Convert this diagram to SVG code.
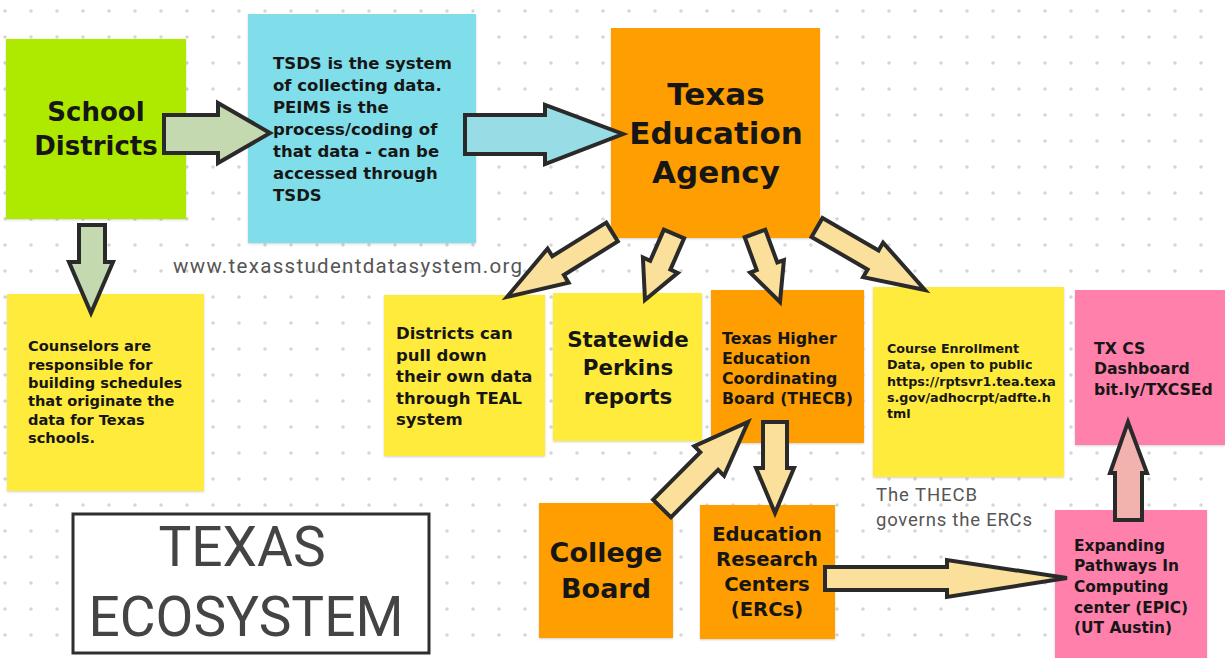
<svg xmlns="http://www.w3.org/2000/svg" width="1225" height="658" viewBox="0 0 1225 658">
<defs>
<pattern id="dots" x="5" y="11" width="26" height="26" patternUnits="userSpaceOnUse">
<circle cx="0" cy="0" r="1.7" fill="#d4d4d4"/><circle cx="26" cy="0" r="1.7" fill="#d4d4d4"/><circle cx="0" cy="26" r="1.7" fill="#d4d4d4"/><circle cx="26" cy="26" r="1.7" fill="#d4d4d4"/>
</pattern>
<filter id="sh" x="-5%" y="-5%" width="110%" height="110%"><feDropShadow dx="0" dy="1" stdDeviation="1" flood-color="#000" flood-opacity="0.18"/></filter>
</defs>
<style>
.b{font-family:"DejaVu Sans","Noto Sans",sans-serif;font-weight:bold;fill:#161616}
.r{font-family:Roboto,"Liberation Sans",sans-serif;fill:#555}
.note{filter:url(#sh)}
.arr{stroke:#2a2a2a;stroke-width:4;stroke-linejoin:miter}
.mid{text-anchor:middle}
</style>
<rect width="1225" height="658" fill="#fff"/>
<rect width="1225" height="658" fill="url(#dots)"/>

<g id="school-districts">
<rect class="note" x="6" y="39" width="180" height="180" fill="#aeea00"/>
<text class="b mid" x="96" y="121" font-size="26">School</text>
<text class="b mid" x="96" y="155" font-size="26">Districts</text>
</g>

<g id="tsds">
<rect class="note" x="248" y="14" width="228" height="229" fill="#80deea"/>
<text class="b" font-size="16.5"><tspan x="273" y="69">TSDS is the system</tspan><tspan x="273" y="91">of collecting data.</tspan><tspan x="273" y="113">PEIMS is the</tspan><tspan x="273" y="135">process/coding of</tspan><tspan x="273" y="157">that data - can be</tspan><tspan x="273" y="179">accessed through</tspan><tspan x="273" y="201">TSDS</tspan></text>
</g>

<g id="tea">
<rect class="note" x="611" y="28" width="209" height="210" fill="#ff9e00"/>
<text class="b mid" font-size="31"><tspan x="716" y="105">Texas</tspan><tspan x="716" y="144">Education</tspan><tspan x="716" y="183">Agency</tspan></text>
</g>

<g id="tsds-url">
<text class="r" x="173" y="273" font-size="20.5" textLength="349" lengthAdjust="spacing">www.texasstudentdatasystem.org</text>
</g>

<g id="counselors">
<rect class="note" x="7" y="294" width="197" height="197" fill="#ffeb3b"/>
<text class="b" font-size="14.6"><tspan x="28" y="351">Counselors are</tspan><tspan x="28" y="370">responsible for</tspan><tspan x="28" y="388">building schedules</tspan><tspan x="28" y="406">that originate the</tspan><tspan x="28" y="425">data for Texas</tspan><tspan x="28" y="443">schools.</tspan></text>
</g>

<g id="districts-pull">
<rect class="note" x="384" y="295" width="161" height="161" fill="#ffeb3b"/>
<text class="b" font-size="16.5"><tspan x="396" y="339">Districts can</tspan><tspan x="396" y="361">pull down</tspan><tspan x="396" y="382">their own data</tspan><tspan x="396" y="404">through TEAL</tspan><tspan x="396" y="425">system</tspan></text>
</g>

<g id="perkins">
<rect class="note" x="553" y="293" width="149" height="148" fill="#ffeb3b"/>
<text class="b mid" font-size="21.4"><tspan x="628" y="347">Statewide</tspan><tspan x="628" y="375">Perkins</tspan><tspan x="628" y="404">reports</tspan></text>
</g>

<g id="thecb">
<rect class="note" x="711" y="290" width="153" height="153" fill="#ff9e00"/>
<text class="b" font-size="15.8"><tspan x="722" y="344">Texas Higher</tspan><tspan x="722" y="364">Education</tspan><tspan x="722" y="384">Coordinating</tspan><tspan x="722" y="404">Board (THECB)</tspan></text>
</g>

<g id="course-enrollment">
<rect class="note" x="873" y="287" width="191" height="190" fill="#ffeb3b"/>
<text class="b" font-size="12.7"><tspan x="887" y="353">Course Enrollment</tspan><tspan x="887" y="369">Data, open to public</tspan><tspan x="887" y="386">https://rptsvr1.tea.texa</tspan><tspan x="887" y="402">s.gov/adhocrpt/adfte.h</tspan><tspan x="887" y="418">tml</tspan></text>
</g>

<g id="tx-cs-dashboard">
<rect class="note" x="1075" y="290" width="150" height="155" fill="#ff80ab"/>
<text class="b" font-size="15.7"><tspan x="1094" y="354">TX CS</tspan><tspan x="1094" y="374">Dashboard</tspan><tspan x="1094" y="395">bit.ly/TXCSEd</tspan></text>
</g>

<g id="thecb-note">
<text class="r" x="876" y="501" font-size="18.5" textLength="101" lengthAdjust="spacing">The THECB</text>
<text class="r" x="876" y="526" font-size="18.5" textLength="156" lengthAdjust="spacing">governs the ERCs</text>
</g>

<g id="college-board">
<rect class="note" x="539" y="503" width="134" height="135" fill="#ff9e00"/>
<text class="b mid" font-size="27"><tspan x="606" y="562">College</tspan><tspan x="606" y="598">Board</tspan></text>
</g>

<g id="ercs">
<rect class="note" x="700" y="505" width="135" height="134" fill="#ff9e00"/>
<text class="b mid" font-size="19.6"><tspan x="767" y="541">Education</tspan><tspan x="767" y="566">Research</tspan><tspan x="767" y="591">Centers</tspan><tspan x="767" y="616">(ERCs)</tspan></text>
</g>

<g id="epic">
<rect class="note" x="1055" y="510" width="152" height="150" fill="#ff80ab"/>
<text class="b" font-size="15.4"><tspan x="1074" y="551">Expanding</tspan><tspan x="1074" y="571">Pathways In</tspan><tspan x="1074" y="592">Computing</tspan><tspan x="1074" y="613">center (EPIC)</tspan><tspan x="1074" y="633">(UT Austin)</tspan></text>
</g>

<g id="title">
<rect x="73" y="514" width="356" height="139" fill="#fff" stroke="#2e2e2e" stroke-width="3"/>
<text class="r mid" font-size="55" style="fill:#444"><tspan x="242" y="566">TEXAS</tspan><tspan x="246" y="636">ECOSYSTEM</tspan></text>
</g>

<g id="connectors">
<polygon class="arr" fill="#c5d9b0" points="164,115 218,115 218,103 270,133 218,163 218,153 164,153"/>
<polygon class="arr" fill="#98dde6" points="465,115 545,115 545,105 623,134 545,164 545,154 465,154"/>
<polygon class="arr" fill="#c5d9b0" points="79,225 105,225 105,262 113,262 91,313 69,262 79,262"/>
<polygon class="arr" fill="#fbe09b" points="606.2,222.6 552.3,256.2 547.6,248.6 507,297 568.6,282.6 563.9,275 617.8,241.4"/>
<polygon class="arr" fill="#fbe09b" points="663.9,229.6 650.2,260.8 642.9,257.5 645,300 677.7,272.9 670.4,269.6 684.1,238.4"/>
<polygon class="arr" fill="#fbe09b" points="744.7,237.3 756.7,270.1 750.1,272.5 780,302 783.9,260.1 777.3,262.5 765.3,229.7"/>
<polygon class="arr" fill="#fbe09b" points="811.5,237 867.6,269.4 863.1,277.2 925,290 883.1,242.6 878.6,250.4 822.5,218"/>
<polygon class="arr" fill="#fbe09b" points="670.9,517.3 718.1,469.8 724.1,475.8 748,422 694.3,446.2 700.3,452.2 653.1,499.7"/>
<polygon class="arr" fill="#fbe09b" points="763,422 787,422 787,468 794,468 775,513 756,468 763,468"/>
<polygon class="arr" fill="#fbe09b" points="825,567 947,567 947,560 1067,578 947,597 947,590 825,590"/>
<polygon class="arr" fill="#f2b3ae" points="1115,520 1115,473 1110,473 1128,422 1147,473 1142,473 1142,520"/>
</g>
</svg>
